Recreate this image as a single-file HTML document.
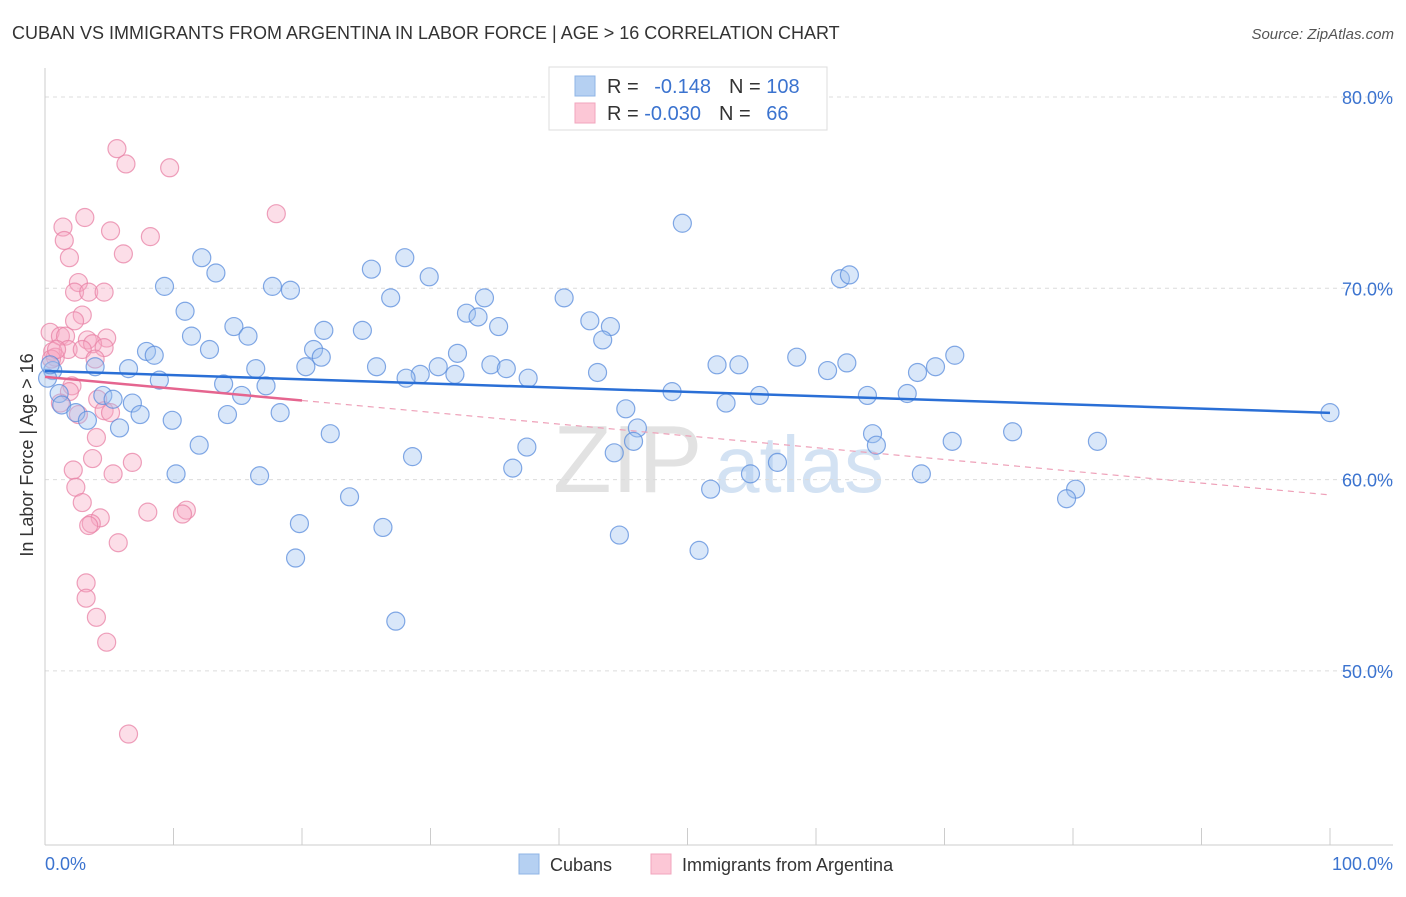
<!DOCTYPE html>
<html><head><meta charset="utf-8"><style>
body{margin:0;background:#fff;font-family:"Liberation Sans",sans-serif}
svg text{font-family:"Liberation Sans",sans-serif}
</style></head><body>
<svg id="chart" width="1406" height="892">
<text x="12" y="39" font-size="18" fill="#333">CUBAN VS IMMIGRANTS FROM ARGENTINA IN LABOR FORCE | AGE &gt; 16 CORRELATION CHART</text>
<text x="1394" y="39" font-size="15" fill="#555" font-style="italic" text-anchor="end">Source: ZipAtlas.com</text>
<g>
<text x="553" y="492" font-size="96" font-family="Liberation Serif,serif" fill="#e2e2e2">ZIP</text>
<text x="715" y="492" font-size="80" fill="#d3e2f3">atlas</text>
</g>
<g id="grid"></g>
<g id="axes"></g>
<g id="pts"></g>
<g id="lines"></g>
<text transform="translate(33,455) rotate(-90)" font-size="18" fill="#333" text-anchor="middle">In Labor Force | Age &gt; 16</text>
<text x="45" y="870" font-size="18" fill="#3b73cf">0.0%</text>
<text x="1393" y="870" font-size="18" fill="#3b73cf" text-anchor="end">100.0%</text>
<g>
<rect x="549" y="67" width="278" height="63" fill="#fff" stroke="#ddd"/>
<rect x="575" y="76" width="20" height="20" fill="#b5d0f2" stroke="#8fb4e6"/>
<rect x="575" y="103" width="20" height="20" fill="#fcc7d6" stroke="#f2a5bd"/>
<text x="607" y="93" font-size="20" fill="#333">R = <tspan fill="#3b73cf" dx="10">-0.148</tspan><tspan dx="18" fill="#333">N = </tspan><tspan fill="#3b73cf">108</tspan></text>
<text x="607" y="120" font-size="20" fill="#333">R = <tspan fill="#3b73cf">-0.030</tspan><tspan dx="18" fill="#333">N = </tspan><tspan fill="#3b73cf" dx="10">66</tspan></text>
</g>
<g>
<rect x="519" y="854" width="20" height="20" fill="#b5d0f2" stroke="#8fb4e6"/>
<text x="550" y="871" font-size="18" fill="#333">Cubans</text>
<rect x="651" y="854" width="20" height="20" fill="#fcc7d6" stroke="#f2a5bd"/>
<text x="682" y="871" font-size="18" fill="#333">Immigrants from Argentina</text>
</g>
</svg>
<script>
const yTicks=[80,70,60,50];
const yTickLabels=["80.0%","70.0%","60.0%","50.0%"];
const xTicks=[0,10,20,30,40,50,60,70,80,90,100];
const blueX=[49.6,12.2,13.3,25.4,28.0,29.9,9.3,17.7,19.1,26.9,34.2,40.4,61.9,62.6,10.9,32.8,33.7,35.3,42.4,44.0,43.4,21.7,24.7,14.7,15.8,11.4,12.8,7.9,8.5,20.9,21.5,32.1,20.3,25.8,30.6,34.7,35.9,52.3,54.0,58.5,62.4,70.8,69.3,67.9,60.9,3.9,6.5,16.4,29.2,28.1,31.9,37.6,43.0,0.6,8.9,13.9,17.2,15.3,48.8,55.6,64.0,67.1,1.1,4.5,5.3,6.8,53.0,1.3,2.4,3.3,7.4,9.9,14.2,18.3,45.2,5.8,22.2,46.1,64.4,64.7,70.6,75.3,81.9,100,12.0,37.5,44.3,45.8,28.6,57.0,54.9,68.2,10.2,16.7,36.4,51.8,80.2,79.5,23.7,19.8,26.3,44.7,50.9,19.5,27.3,0.2,0.4];
const blueY=[73.4,71.6,70.8,71.0,71.6,70.6,70.1,70.1,69.9,69.5,69.5,69.5,70.5,70.7,68.8,68.7,68.5,68.0,68.3,68.0,67.3,67.8,67.8,68.0,67.5,67.5,66.8,66.7,66.5,66.8,66.4,66.6,65.9,65.9,65.9,66.0,65.8,66.0,66.0,66.4,66.1,66.5,65.9,65.6,65.7,65.9,65.8,65.8,65.5,65.3,65.5,65.3,65.6,65.7,65.2,65.0,64.9,64.4,64.6,64.4,64.4,64.5,64.5,64.4,64.2,64.0,64.0,63.9,63.5,63.1,63.4,63.1,63.4,63.5,63.7,62.7,62.4,62.7,62.4,61.8,62.0,62.5,62.0,63.5,61.8,61.7,61.4,62.0,61.2,60.9,60.3,60.3,60.3,60.2,60.6,59.5,59.5,59.0,59.1,57.7,57.5,57.1,56.3,55.9,52.6,65.3,66.0];
const pinkX=[5.6,6.3,9.7,18.0,1.4,3.1,5.1,1.5,8.2,6.1,1.9,2.6,2.3,3.4,4.6,2.9,2.3,0.4,1.2,1.6,3.3,4.8,3.7,4.6,1.8,2.9,0.6,0.8,3.9,2.1,1.9,4.1,1.2,4.6,5.1,2.6,4.0,3.7,2.2,6.8,5.3,2.4,2.9,8.0,11.0,10.7,4.3,3.6,3.4,5.7,3.2,3.2,4.0,4.8,6.5,0.5,0.9];
const pinkY=[77.3,76.5,76.3,73.9,73.2,73.7,73.0,72.5,72.7,71.8,71.6,70.3,69.8,69.8,69.8,68.6,68.3,67.7,67.5,67.5,67.3,67.4,67.1,66.9,66.8,66.8,66.7,66.4,66.3,64.9,64.6,64.2,64.0,63.6,63.5,63.4,62.2,61.1,60.5,60.9,60.3,59.6,58.8,58.3,58.4,58.2,58.0,57.7,57.6,56.7,54.6,53.8,52.8,51.5,46.7,66.3,66.8];
const blueTrend=[65.68,63.49];
const pinkTrend=[65.37,59.2];
const pinkSolidEnd=20;
const NS="http://www.w3.org/2000/svg";
const X0=45,X1=1330,YTOP=97,YPX=19.13;
const sx=v=>X0+(X1-X0)*v/100;
const sy=v=>YTOP+(80-v)*YPX;
function mk(tag,attrs,parent){const e=document.createElementNS(NS,tag);for(const k in attrs)e.setAttribute(k,attrs[k]);document.getElementById(parent).appendChild(e);return e;}
yTicks.forEach((t,i)=>{
 const g=mk('line',{x1:45,x2:1393,y1:sy(t),y2:sy(t),stroke:'#dcdcdc','stroke-dasharray':'4,4'},'grid');
 
 
 const l=mk('text',{x:1393,y:sy(t)+7,'font-size':18,fill:'#3b73cf','text-anchor':'end'},'grid');
 l.textContent=yTickLabels[i];
 
 
});
const ax=mk('line',{x1:45,x2:45,y1:68,y2:845,stroke:'#ccc'},'axes');


const bx=mk('line',{x1:45,x2:1393,y1:845,y2:845,stroke:'#ccc'},'axes');


xTicks.forEach(t=>{
 const k=mk('line',{x1:sx(t),x2:sx(t),y1:828,y2:845,stroke:'#ccc'},'axes');
 
 
});
pinkX.forEach((x,i)=>{
 const c=mk('circle',{cx:sx(x),cy:sy(pinkY[i]),r:9,fill:'rgba(246,168,194,0.38)',stroke:'rgba(232,130,165,0.75)','stroke-width':1.2},'pts');
 
 
});
blueX.forEach((x,i)=>{
 const c=mk('circle',{cx:sx(x),cy:sy(blueY[i]),r:9,fill:'rgba(160,196,240,0.4)',stroke:'rgba(90,140,220,0.75)','stroke-width':1.2},'pts');
 
 
});
const bl=mk('line',{x1:sx(0),y1:sy(blueTrend[0]),x2:sx(100),y2:sy(blueTrend[1]),stroke:'#2a6fd6','stroke-width':2.5},'lines');


const pAt=x=>pinkTrend[0]+(pinkTrend[1]-pinkTrend[0])*x/100;
const pl=mk('line',{x1:sx(0),y1:sy(pAt(0)),x2:sx(pinkSolidEnd),y2:sy(pAt(pinkSolidEnd)),stroke:'#e5658f','stroke-width':2.5},'lines');


const pd=mk('line',{x1:sx(pinkSolidEnd),y1:sy(pAt(pinkSolidEnd)),x2:sx(100),y2:sy(pAt(100)),stroke:'#eea0b8','stroke-width':1.2,'stroke-dasharray':'6,5'},'lines');


</script>
</body></html>
